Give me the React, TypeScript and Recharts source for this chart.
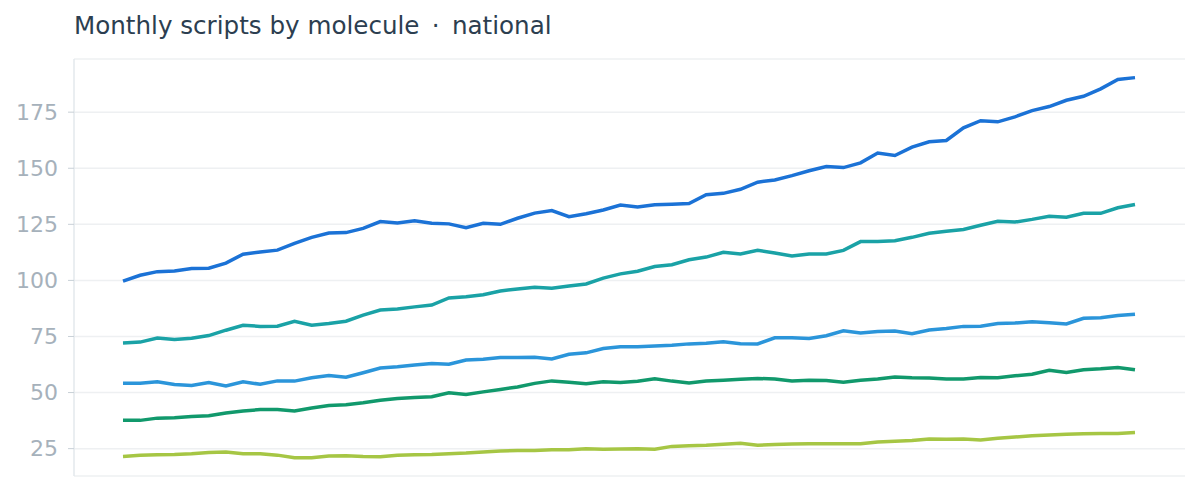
import React from 'react';
import { LineChart, Line, XAxis, YAxis, CartesianGrid } from 'recharts';

const START_YEAR = 2019;
const months: string[] = Array.from({ length: 60 }, (_, i) => {
  const y = START_YEAR + Math.floor(i / 12);
  const m = (i % 12) + 1;
  return `${y}-${m < 10 ? '0' + m : m}`;
});

const seriesA = [
  99.7, 102.3, 103.9, 104.2, 105.3, 105.4, 107.7, 111.7, 112.7, 113.5, 116.5, 119.2, 121.1, 121.3, 123.2, 126.2,
  125.6, 126.6, 125.5, 125.2, 123.5, 125.5, 125.0, 127.7, 130.0, 131.1, 128.4, 129.7, 131.4, 133.6, 132.7, 133.7,
  134.0, 134.3, 138.2, 138.8, 140.6, 143.8, 144.8, 146.7, 148.9, 150.8, 150.3, 152.4, 156.8, 155.7, 159.4, 161.8,
  162.4, 168.0, 171.2, 170.7, 172.9, 175.7, 177.5, 180.3, 182.1, 185.4, 189.6, 190.4,
];
const seriesB = [
  72.1, 72.5, 74.3, 73.6, 74.2, 75.4, 77.8, 80.0, 79.5, 79.6, 81.8, 80.0, 80.8, 81.8, 84.5, 86.8, 87.3,
  88.2, 89.0, 92.2, 92.7, 93.6, 95.3, 96.2, 96.9, 96.5, 97.5, 98.4, 101.0, 102.9, 104.1, 106.2, 107.0,
  109.2, 110.4, 112.5, 111.8, 113.4, 112.2, 110.9, 111.8, 111.8, 113.4, 117.3, 117.3, 117.7, 119.2, 121.0, 121.9, 122.7,
  124.6, 126.4, 126.0, 127.2, 128.6, 128.2, 129.9, 129.9, 132.4, 133.8,
];
const seriesC = [
  54.1, 54.1, 54.8, 53.6, 53.2, 54.5, 52.9, 54.8, 53.7, 55.2, 55.1, 56.6, 57.6, 56.8, 58.8, 60.9, 61.5,
  62.3, 62.9, 62.6, 64.5, 64.8, 65.6, 65.6, 65.7, 65.0, 67.1, 67.7, 69.6, 70.4, 70.4, 70.8, 71.1,
  71.7, 72.0, 72.6, 71.8, 71.7, 74.4, 74.4, 74.1, 75.3, 77.5, 76.6, 77.2, 77.4, 76.2, 77.9, 78.6, 79.5,
  79.6, 80.8, 81.0, 81.6, 81.1, 80.6, 83.1, 83.3, 84.3, 84.9,
];
const seriesD = [
  37.6, 37.6, 38.6, 38.8, 39.3, 39.7, 40.9, 41.8, 42.4, 42.4, 41.8, 43.1, 44.2, 44.6, 45.5, 46.6, 47.3,
  47.8, 48.1, 49.9, 49.1, 50.3, 51.4, 52.5, 54.1, 55.2, 54.6, 53.9, 54.8, 54.5, 55.0, 56.1, 55.1,
  54.3, 55.1, 55.5, 55.9, 56.3, 56.0, 55.2, 55.5, 55.4, 54.6, 55.5, 56.0, 56.9, 56.6, 56.5, 56.0, 56.0,
  56.7, 56.6, 57.5, 58.2, 59.9, 59.0, 60.2, 60.6, 61.2, 60.2,
];
const seriesE = [
  21.5, 22.0, 22.3, 22.4, 22.7, 23.3, 23.5, 22.7, 22.7, 22.1, 20.9, 20.9, 21.7, 21.8, 21.5, 21.4, 22.1,
  22.3, 22.4, 22.7, 23.0, 23.5, 23.9, 24.2, 24.2, 24.5, 24.5, 25.0, 24.7, 24.8, 25.0, 24.7, 26.0,
  26.3, 26.5, 26.9, 27.4, 26.5, 26.8, 27.1, 27.2, 27.2, 27.2, 27.2, 28.0, 28.3, 28.6, 29.3, 29.2, 29.3,
  28.9, 29.6, 30.2, 30.7, 31.1, 31.4, 31.6, 31.7, 31.8, 32.2,
];

const yTicks = [25, 50, 75, 100, 125, 150, 175];
const TITLE = 'Monthly scripts by molecule\u2002·\u2002national';

const seriesKeys = ['a', 'b', 'c', 'd', 'e'];
const seriesColors = ['#1b72d6', '#1aa2a6', '#2b95da', '#11996c', '#a6c644'];

const data = months.map((m, i) => ({
  month: m,
  a: seriesA[i],
  b: seriesB[i],
  c: seriesC[i],
  d: seriesD[i],
  e: seriesE[i],
}));

export default function App() {
  return (
    <div style={{ position: 'absolute', left: 0, top: 0, width: 1200, height: 492, background: '#fff' }}>
      <svg width={1200} height={60} style={{ position: 'absolute', left: 0, top: 0 }}>
        <text
          x={74}
          y={34}
          fontFamily="'DejaVu Sans', sans-serif"
          fontSize={24.6}
          fill="#2c3e50"
          style={{ whiteSpace: 'pre' }}
        >
          {TITLE}
        </text>
      </svg>
      <LineChart
        width={1200}
        height={492}
        data={data}
        margin={{ top: 59, right: 15, bottom: 16, left: 0 }}
      >
        <CartesianGrid vertical={false} stroke="#eef0f2" strokeWidth={1.5} />
        <XAxis
          dataKey="month"
          tick={false}
          tickLine={false}
          height={0}
          axisLine={{ stroke: '#e3e8ec', strokeWidth: 1.5 }}
          padding={{ left: 49, right: 50 }}
        />
        <YAxis
          width={74}
          domain={[12.8, 198.7]}
          ticks={yTicks}
          allowDataOverflow
          tickSize={6}
          tickMargin={10}
          tickLine={{ stroke: '#c8d0d7' }}
          axisLine={{ stroke: '#e3e8ec', strokeWidth: 1.5 }}
          tick={{ fill: '#a6b1bb', fontSize: 22, fontFamily: "'DejaVu Sans', sans-serif" }}
        />
        {seriesKeys.map((k, i) => (
          <Line
            key={k}
            type="linear"
            dataKey={k}
            stroke={seriesColors[i]}
            strokeWidth={3.5}
            dot={false}
            activeDot={false}
            isAnimationActive={false}
          />
        ))}
      </LineChart>
    </div>
  );
}
